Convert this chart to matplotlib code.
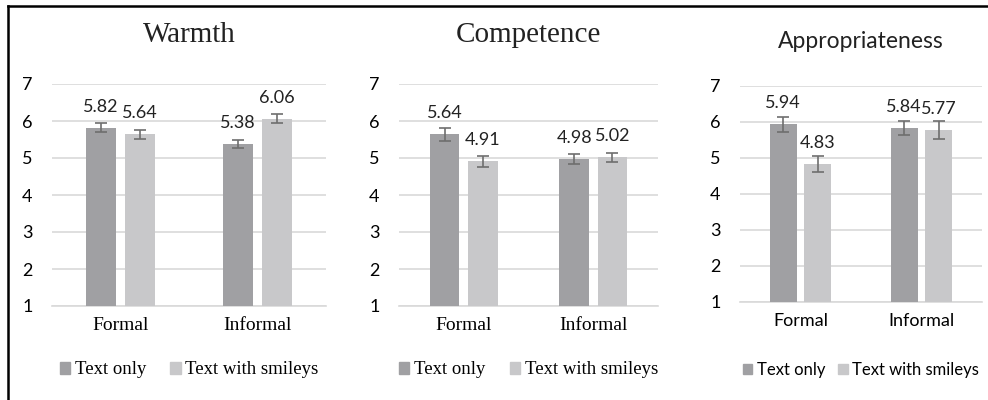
import matplotlib.pyplot as plt
from matplotlib.lines import Line2D
import numpy as np

# data
categories = ["Formal", "Informal"]
series_names = ["Text only", "Text with smileys"]
titles = ["Warmth", "Competence", "Appropriateness"]

warmth_text = [5.82, 5.38]
warmth_smiley = [5.64, 6.06]
warmth_text_err = [0.13, 0.12]
warmth_smiley_err = [0.13, 0.12]

comp_text = [5.64, 4.98]
comp_smiley = [4.91, 5.02]
comp_text_err = [0.18, 0.13]
comp_smiley_err = [0.15, 0.12]

appr_text = [5.94, 5.84]
appr_smiley = [4.83, 5.77]
appr_text_err = [0.21, 0.20]
appr_smiley_err = [0.23, 0.25]

W, H = 988, 400
fig = plt.figure(figsize=(W / 100, H / 100), dpi=100)

dark = "#a0a0a3"
light = "#c8c8ca"
errc = "#6e6e6e"
gridc = "#d9d9d9"
sans = ["Lato", "DejaVu Sans"]
serif = ["Liberation Serif", "DejaVu Serif"]

# pixel boxes: left, right, top, bottom of the plot area
boxes = [(52, 326, 84, 306), (399, 658, 84, 306), (740, 982, 86, 302)]
title_y = [35, 35, 42]
title_fonts = [(serif, 21), (serif, 21), (sans, 16.5)]
label_fonts = [serif, serif, sans]
label_sizes = [14, 14, 13]
legend_sizes = [13.5, 13.5, 12]
legend_spacing = [1.3, 1.3, 0.8]
bar_w = [0.22, 0.23, 0.22]

panels = [
    (warmth_text, warmth_smiley, warmth_text_err, warmth_smiley_err),
    (comp_text, comp_smiley, comp_text_err, comp_smiley_err),
    (appr_text, appr_smiley, appr_text_err, appr_smiley_err),
]

for i, (t, s, te, se) in enumerate(panels):
    l, r, top, bot = boxes[i]
    ax = fig.add_axes([l / W, (H - bot) / H, (r - l) / W, (bot - top) / H])
    x = np.arange(len(categories))
    w = bar_w[i]
    off = w / 2 + 0.033
    ekw = dict(ecolor=errc, elinewidth=1.2, capsize=4, capthick=1.2)
    ax.bar(x - off, t, w, color=dark, yerr=te, error_kw=ekw, zorder=3)
    ax.bar(x + off, s, w, color=light, yerr=se, error_kw=ekw, zorder=3)
    for xi, v in zip(x - off, t):
        ax.annotate(f"{v:.2f}", (xi, v), xytext=(0, 15), textcoords="offset points",
                    ha="center", va="center", fontsize=13, family=sans, color="#222222")
    for xi, v in zip(x + off, s):
        ax.annotate(f"{v:.2f}", (xi, v), xytext=(0, 15), textcoords="offset points",
                    ha="center", va="center", fontsize=13, family=sans, color="#222222")

    ax.set_xlim(-0.5, 1.5)
    ax.set_ylim(1, 7)
    ax.set_yticks(range(1, 8))
    ax.yaxis.grid(True, color=gridc, linewidth=1.2, zorder=0)
    for sp in ["top", "right", "left"]:
        ax.spines[sp].set_visible(False)
    ax.spines["bottom"].set_color(gridc)
    ax.spines["bottom"].set_linewidth(1.2)
    ax.tick_params(axis="y", length=0, pad=14, labelsize=13)
    ax.tick_params(axis="x", length=0, pad=8)
    for lab in ax.get_yticklabels():
        lab.set_family(sans)
    ax.set_xticks(x)
    ax.set_xticklabels(categories, family=label_fonts[i], fontsize=label_sizes[i])

    tf, ts = title_fonts[i]
    fig.text((l + r) / 2 / W, 1 - title_y[i] / H, titles[i], ha="center", va="center",
             family=tf, fontsize=ts, color="#222222")

    handles = [plt.Rectangle((0, 0), 1, 1, color=dark), plt.Rectangle((0, 0), 1, 1, color=light)]
    ax.legend(handles, series_names, loc="center", bbox_to_anchor=((l + r) / 2 / W, 1 - 370 / H),
              bbox_transform=fig.transFigure, ncol=2, frameon=False, handlelength=0.55,
              handleheight=0.55, handletextpad=0.25, columnspacing=legend_spacing[i],
              prop={"family": label_fonts[i], "size": legend_sizes[i]})

# frame lines at top and left
fig.add_artist(Line2D([8 / W, 1], [1 - 6 / H, 1 - 6 / H], color="black", linewidth=1.8,
                      transform=fig.transFigure))
fig.add_artist(Line2D([8 / W, 8 / W], [0, 1 - 6 / H], color="black", linewidth=1.8,
                      transform=fig.transFigure))

fig.savefig("out.png", dpi=100)
